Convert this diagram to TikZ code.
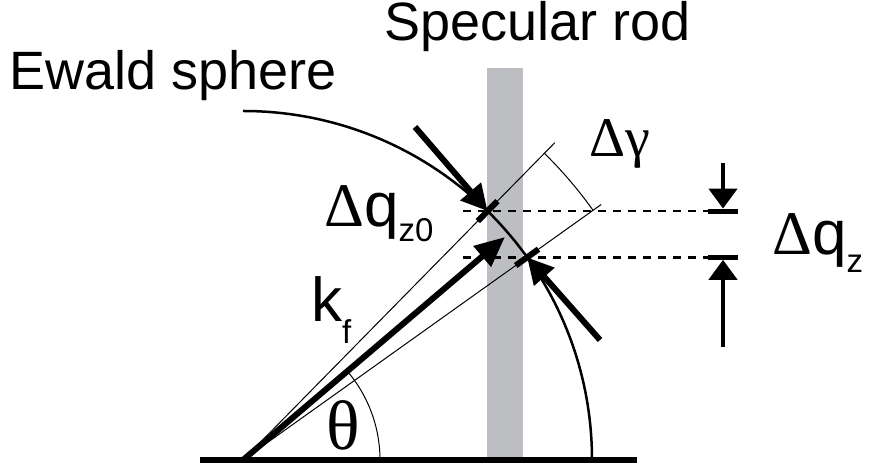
\documentclass[tikz,border=0pt]{standalone}
\usepackage{fontspec}
\setmainfont{Liberation Sans}
\newfontfamily\serifgr{Liberation Serif}
\usetikzlibrary{arrows.meta,calc}
\definecolor{rodgray}{RGB}{188,190,193}
\newcommand\lowsub[2]{\raisebox{-#1}{\fontsize{33}{33}\selectfont #2}}

\begin{document}
\begin{tikzpicture}[x=1pt,y=1pt,
  every node/.style={inner sep=0pt,anchor=base west},
  title/.style={font=\fontsize{54}{60}\selectfont},
  sym/.style={font=\fontsize{62}{70}\selectfont},
  thinline/.style={line width=1pt},
  heavy/.style={line width=6pt},
  bigtip/.style={-{Triangle[length=26pt,width=26pt]}},
  dimtip/.style={line width=4.5pt,-{Triangle[length=20pt,width=28pt]}}]
\useasboundingbox (-243,-10) rectangle (634,460);
\fill[rodgray] (244,0) rectangle (280,392);
\coordinate (O) at (0,0);
\coordinate (P1) at (45.5:349);
\coordinate (P2) at (35.5:349);
\coordinate (R1) at (45.5:445);
\coordinate (R2) at (35.5:440);
\coordinate (K) at (40.4:344);
\coordinate (dl) at (220,0);
\coordinate (dr) at (467,0);
\coordinate (M) at (480,0);
\coordinate (qtop) at (480,297);
\coordinate (qbot) at (480,113);
\coordinate (a1) at (172,333);
\coordinate (a2) at (357,120);
\draw[line width=6.5pt] (-43,0) -- (394,0);
\draw[thinline] (O) -- (R1);
\draw[thinline] (O) -- (R2);
\draw[thinline] (35.5:430) arc[start angle=35.5,end angle=45.5,radius=430];
\draw[thinline] (137,0) arc[start angle=0,end angle=40.4,radius=137];
\draw[line width=2.5pt] (0,349) arc[start angle=90,end angle=0,radius=349];
\draw[heavy] (45.5:335) -- (45.5:363);
\draw[heavy] (35.5:335) -- (35.5:363);
\draw[line width=2.5pt,dash pattern=on 8pt off 7pt] (dl |- P1) -- (dr |- P1);
\draw[line width=2.5pt,dash pattern=on 8pt off 7pt] (dl |- P2) -- (dr |- P2);
\draw[heavy,-{Triangle[length=30pt,width=26pt]}] (O) -- (K);
\draw[heavy,bigtip] (a1) -- (P1);
\draw[heavy,bigtip] (a2) -- (P2);
\draw[line width=5pt] ($(M |- P1)+(-15,0)$) -- ($(M |- P1)+(15,0)$);
\draw[line width=5pt] ($(M |- P2)+(-15,0)$) -- ($(M |- P2)+(15,0)$);
\draw[dimtip] (qtop) -- ($(M |- P1)+(0,2.5)$);
\draw[dimtip] (qbot) -- ($(M |- P2)+(0,-2.5)$);
\node[title] (rod) at (141,419) {Specular rod};
\node[title] (ewald) at (-234,370) {Ewald sphere};
\node[sym] (dqz0) at (81,233) {{\serifgr Δ}q\lowsub{15pt}{z0}};
\node[sym] (dqz) at (529,205) {{\serifgr Δ}q\lowsub{18pt}{z}};
\node[sym] (kf) at (68,138) {k\lowsub{22pt}{f}};
\node[font=\serifgr\fontsize{56}{60}\selectfont] (dgamma) at (346,303) {Δγ};
\node[font=\serifgr\fontsize{70}{80}\selectfont] (theta) at (83,10) {θ};
\end{tikzpicture}
\end{document}
